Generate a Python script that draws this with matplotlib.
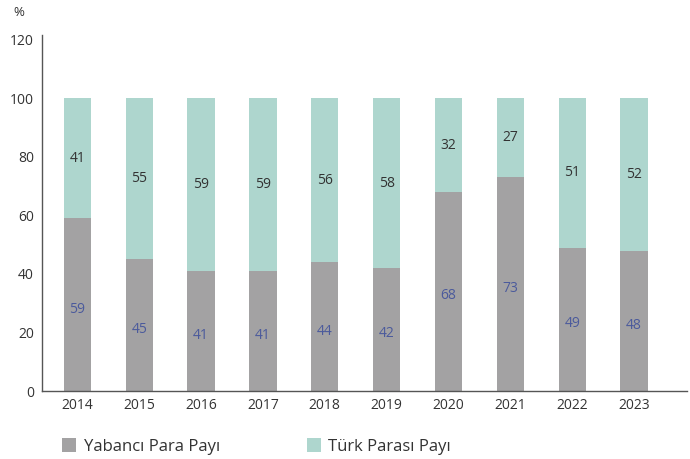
import numpy as np
import matplotlib.pyplot as plt
from matplotlib.patches import Patch

years = ["2014", "2015", "2016", "2017", "2018", "2019", "2020", "2021", "2022", "2023"]
yabanci = [59, 45, 41, 41, 44, 42, 68, 73, 49, 48]
turk = [41, 55, 59, 59, 56, 58, 32, 27, 51, 52]

gray = "#a3a2a3"
green = "#aed6ce"
blue = "#4b5a9c"
txt = "#333333"

plt.rcParams['font.family'] = ['Open Sans', 'DejaVu Sans']

fig = plt.figure(figsize=(6.9, 4.59), dpi=100)
ax = fig.add_axes([0.061, 0.148, 0.935, 0.775])

x = np.arange(len(years))
w = 0.44
ax.bar(x, yabanci, w, color=gray, edgecolor="none")
ax.bar(x, turk, w, bottom=yabanci, color=green, edgecolor="none")

for i in range(len(years)):
    ax.text(x[i], yabanci[i] / 2 - 1.5, str(yabanci[i]), ha="center", va="center",
            color=blue, fontsize=10)
    ax.text(x[i], yabanci[i] + turk[i] / 2, str(turk[i]), ha="center", va="center",
            color=txt, fontsize=10)

ax.set_xlim(-0.57, 9.86)
ax.set_ylim(0, 121.5)
ax.set_yticks([0, 20, 40, 60, 80, 100, 120])
ax.set_xticks(x)
ax.set_xticklabels(years)
ax.tick_params(length=0, labelsize=10, colors=txt)
ax.tick_params(axis="x", pad=5)
ax.tick_params(axis="y", pad=6)
for s in ["top", "right"]:
    ax.spines[s].set_visible(False)
for s in ["left", "bottom"]:
    ax.spines[s].set_color("#555555")
    ax.spines[s].set_linewidth(1.0)

fig.text(0.019, 0.972, "%", fontsize=9.5, color=txt, va="center")

handles = [Patch(facecolor=gray, label="Yabancı Para Payı"),
           Patch(facecolor=green, label="Türk Parası Payı")]
fig.legend(handles=handles, loc="center left", bbox_to_anchor=(0.068, 0.027), ncol=2,
           frameon=False, fontsize=12, handlelength=0.85, handleheight=0.85,
           handletextpad=0.45, columnspacing=5.2, labelcolor=txt)

fig.savefig("out.png", dpi=100)
